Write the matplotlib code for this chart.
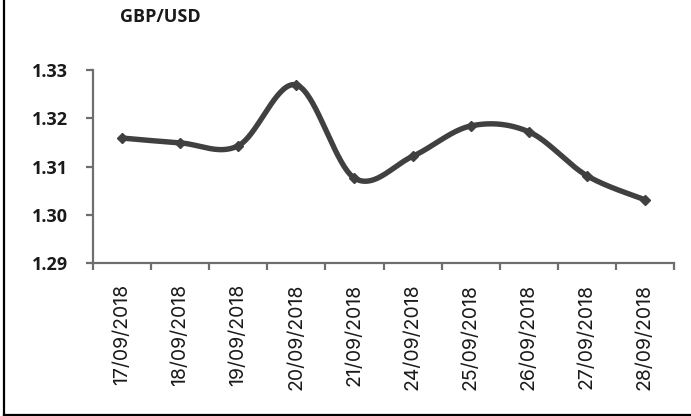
import numpy as np
import matplotlib.pyplot as plt
from matplotlib.lines import Line2D

# GBP/USD daily closes, second half of September 2018
dates = ["17/09/2018", "18/09/2018", "19/09/2018", "20/09/2018", "21/09/2018",
         "24/09/2018", "25/09/2018", "26/09/2018", "27/09/2018", "28/09/2018"]
rates = [1.3159, 1.3149, 1.3143, 1.3269, 1.3076,
         1.3121, 1.3184, 1.3172, 1.3081, 1.3031]
y_ticks = [1.29, 1.30, 1.31, 1.32, 1.33]

line_col = "#404040"
axis_col = "#6e6e6e"


def smooth_curve(xs, ys, n=40):
    # cubic bezier through every point, tangents like a spreadsheet "smooth line"
    xs = np.asarray(xs, float)
    ys = np.asarray(ys, float)
    px, py = [], []
    last = len(xs) - 1
    for i in range(last):
        i0, i3 = max(i - 1, 0), min(i + 2, last)
        c1x = xs[i] + (xs[i + 1] - xs[i0]) / 6
        c1y = ys[i] + (ys[i + 1] - ys[i0]) / 6
        c2x = xs[i + 1] - (xs[i3] - xs[i]) / 6
        c2y = ys[i + 1] - (ys[i3] - ys[i]) / 6
        t = np.linspace(0, 1, n)
        a, b, c, d = (1 - t) ** 3, 3 * (1 - t) ** 2 * t, 3 * (1 - t) * t ** 2, t ** 3
        px.append(a * xs[i] + b * c1x + c * c2x + d * xs[i + 1])
        py.append(a * ys[i] + b * c1y + c * c2y + d * ys[i + 1])
    return np.concatenate(px), np.concatenate(py)


fig = plt.figure(figsize=(6.91, 4.16), dpi=100)
ax = fig.add_axes([0.1346, 0.3678, 0.8408, 0.4639])

x = np.arange(len(dates))
sx, sy = smooth_curve(x, rates)
ax.plot(sx, sy, color=line_col, lw=3.9, solid_capstyle="butt", zorder=3)
ax.plot(x, rates, ls="none", marker="D", ms=5.5, color=line_col, zorder=4)

ax.set_xlim(-0.5, len(dates) - 0.5)
ax.set_ylim(1.29, 1.33)

for s in ["top", "right"]:
    ax.spines[s].set_visible(False)
for s in ["left", "bottom"]:
    ax.spines[s].set_color(axis_col)
    ax.spines[s].set_linewidth(1.6)

# tick marks sit between categories, labels sit under each category
ax.set_xticks(np.arange(-0.5, len(dates)), labels=[])
ax.set_xticks(x, labels=dates, minor=True)
ax.tick_params(axis="x", which="major", length=5, width=1.6, color=axis_col, direction="out")
ax.tick_params(axis="x", which="minor", length=0, pad=15)
for lab in ax.get_xticklabels(minor=True):
    lab.set_rotation(90)
    lab.set_fontfamily("Inter")
    lab.set_fontsize(14)
    lab.set_color("#1a1a1a")

ax.set_yticks(y_ticks, labels=[f"{v:.2f}" for v in y_ticks])
ax.tick_params(axis="y", length=5, width=1.6, color=axis_col, pad=13)
for lab in ax.get_yticklabels():
    lab.set_fontfamily("Open Sans")
    lab.set_fontweight("bold")
    lab.set_fontsize(13)
    lab.set_color("#1a1a1a")

fig.text(0.232, 0.958, "GBP/USD", ha="center", va="center",
         fontfamily="Open Sans", fontweight="bold", fontsize=13, color="#1a1a1a")

# black frame on the left and bottom edges
fig.add_artist(Line2D([4 / 691, 4 / 691], [0, 1], transform=fig.transFigure,
                      color="black", lw=1.6))
fig.add_artist(Line2D([4 / 691, 1], [1.5 / 416, 1.5 / 416], transform=fig.transFigure,
                      color="black", lw=1.6))

fig.savefig("out.png", dpi=100)
